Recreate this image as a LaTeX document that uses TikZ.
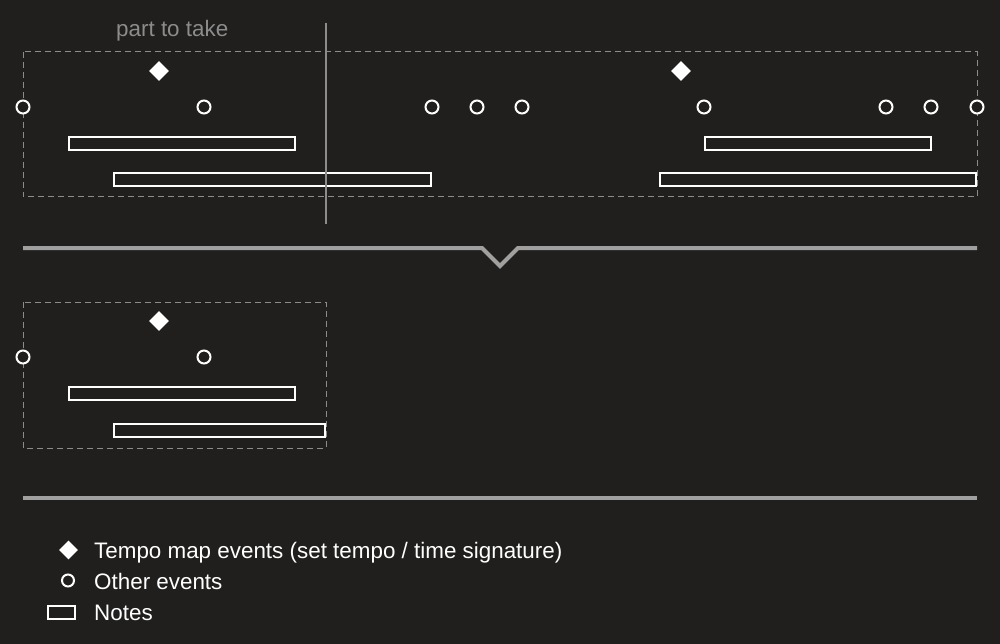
\documentclass[tikz,border=0pt]{standalone}
\usepackage{fontspec}
\setmainfont{Liberation Sans}
\usepackage{xcolor}
\usepackage{tikz}
\usetikzlibrary{
  positioning,
  shapes.geometric
}
\definecolor{bg}{RGB}{32,31,30}
\definecolor{frame}{RGB}{140,140,140}
\definecolor{rule}{RGB}{160,160,160}

\begin{document}
\begin{tikzpicture}[
  x=1pt,y=-1pt,
  ev/.style={circle,draw=white,line width=2pt,fill=bg,minimum size=13pt,inner sep=0},
  tm/.style={diamond,fill=white,minimum size=20pt,inner sep=0},
  nt/.style={rectangle,draw=white,line width=2pt,minimum height=13pt,inner sep=0},
  part/.style={draw=frame,line width=1pt,dash pattern=on 6pt off 4pt},
  sep/.style={draw=rule,line width=4pt},
  lbl/.style={text=white,font=\fontsize{22.4}{26}\selectfont,anchor=base west,inner sep=0}
]
\fill[bg] (0,0) rectangle (1000,644);

% whole track
\draw[part] (23,52) rectangle (977,197);
\node[tm] (t1) at (159,71) {};
\node[tm] (t2) at (681,71) {};
\foreach \x [count=\i] in {23,204,432,477,522,704,886,931,977}
  \node[ev] (e\i) at (\x,107) {};
\node[nt,minimum width=226pt] (n1) at (182,143.5) {};
\node[nt,minimum width=226pt] (n2) at (818,143.5) {};
\node[nt,minimum width=317pt] (n3) at (272.5,180) {};
\node[nt,minimum width=316pt] (n4) at (818,180) {};

% cut position
\coordinate (cuttop) at (326,23);
\coordinate (cutbot) at (326,224);
\draw[frame,line width=1.5pt] (cuttop) -- (cutbot);
\node[lbl,text=frame] (take) at (116,36.5) {part to take};

% divider with notch
\coordinate (s1) at (23,248);
\coordinate (s2) at (482,248);
\coordinate (s3) at (500,266);
\coordinate (s4) at (518,248);
\coordinate (s5) at (977,248);
\draw[sep,line join=miter] (s1) -- (s2) -- (s3) -- (s4) -- (s5);

% taken part
\draw[part] (23,302) rectangle (326,448);
\node[tm] (bt1) at (159,321) {};
\node[ev] (be1) at (23,357) {};
\node[ev] (be2) at (204,357) {};
\node[nt,minimum width=226pt] (bn1) at (182,393.5) {};
\node[nt,minimum width=211pt] (bn2) at (219.5,430) {};

\coordinate (r1) at (23,498);
\coordinate (r2) at (977,498);
\draw[sep] (r1) -- (r2);

% legend
\node[tm,minimum size=19pt] (ltm) at (68.5,550) {};
\node[ev,minimum size=12pt] (lev) at (68,580.5) {};
\node[nt,minimum width=27pt] (lnt) at (61.5,612.5) {};
\node[lbl] (ltmt) at (94,558) {Tempo map events (set tempo / time signature)};
\node[lbl] (levt) at (94,589) {Other events};
\node[lbl] (lntt) at (94,620.5) {Notes};
\end{tikzpicture}
\end{document}
